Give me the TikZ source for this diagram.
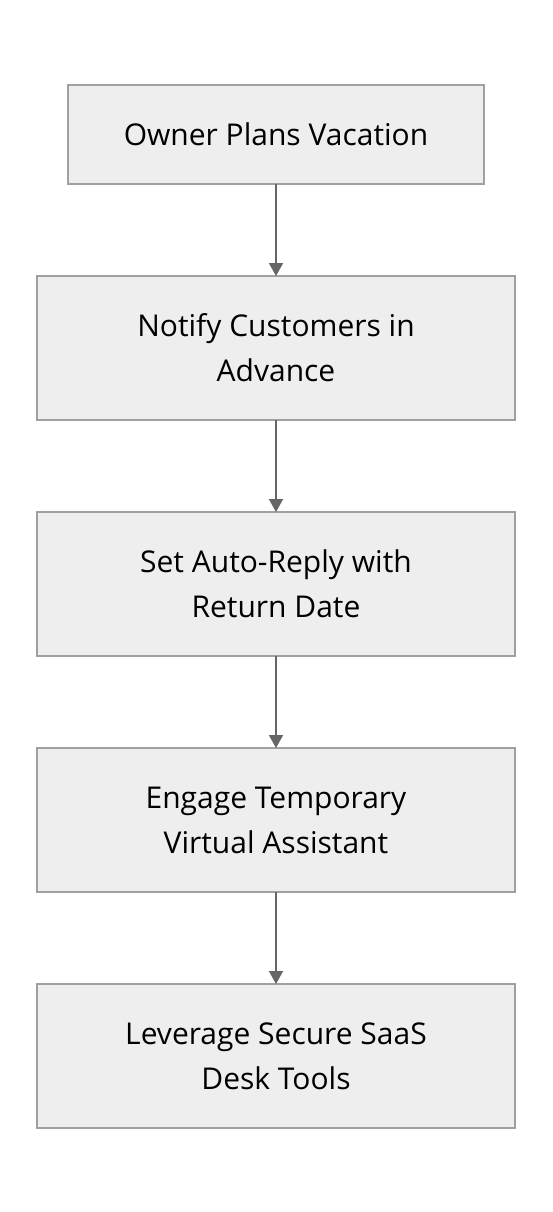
\documentclass[tikz,border=0pt]{standalone}
\usepackage{fontspec}
\setmainfont{Open Sans}
\usetikzlibrary{arrows.meta, positioning}
\definecolor{boxfill}{HTML}{EEEEEE}
\definecolor{boxline}{HTML}{A0A0A0}
\definecolor{arrowgray}{HTML}{666666}

\begin{document}
\begin{tikzpicture}[
    x=1pt, y=1pt,
    node distance=92pt,
    stepbox/.style={rectangle, draw=boxline, line width=1.3pt, outer sep=0pt, fill=boxfill, minimum width=478pt, minimum height=144pt, align=center, font=\fontsize{30}{45}\selectfont, text=black},
    arrow/.style={-{Triangle[width=14pt, length=13pt]}, line width=1.8pt, draw=arrowgray}
]
\useasboundingbox (0,0) rectangle (552,-1212);

% steps
\node[stepbox, minimum width=416pt, minimum height=99pt] (plan) at (276,-134.5) {Owner Plans Vacation};
\node[stepbox, below=of plan] (notify) {Notify Customers in\\Advance};
\node[stepbox, below=of notify] (autoreply) {Set Auto-Reply with\\Return Date};
\node[stepbox, below=of autoreply] (assistant) {Engage Temporary\\Virtual Assistant};
\node[stepbox, below=of assistant] (saas) {Leverage Secure SaaS\\Desk Tools};

% arrows
\draw[arrow] (plan) -- (notify);
\draw[arrow] (notify) -- (autoreply);
\draw[arrow] (autoreply) -- (assistant);
\draw[arrow] (assistant) -- (saas);
\end{tikzpicture}
\end{document}
